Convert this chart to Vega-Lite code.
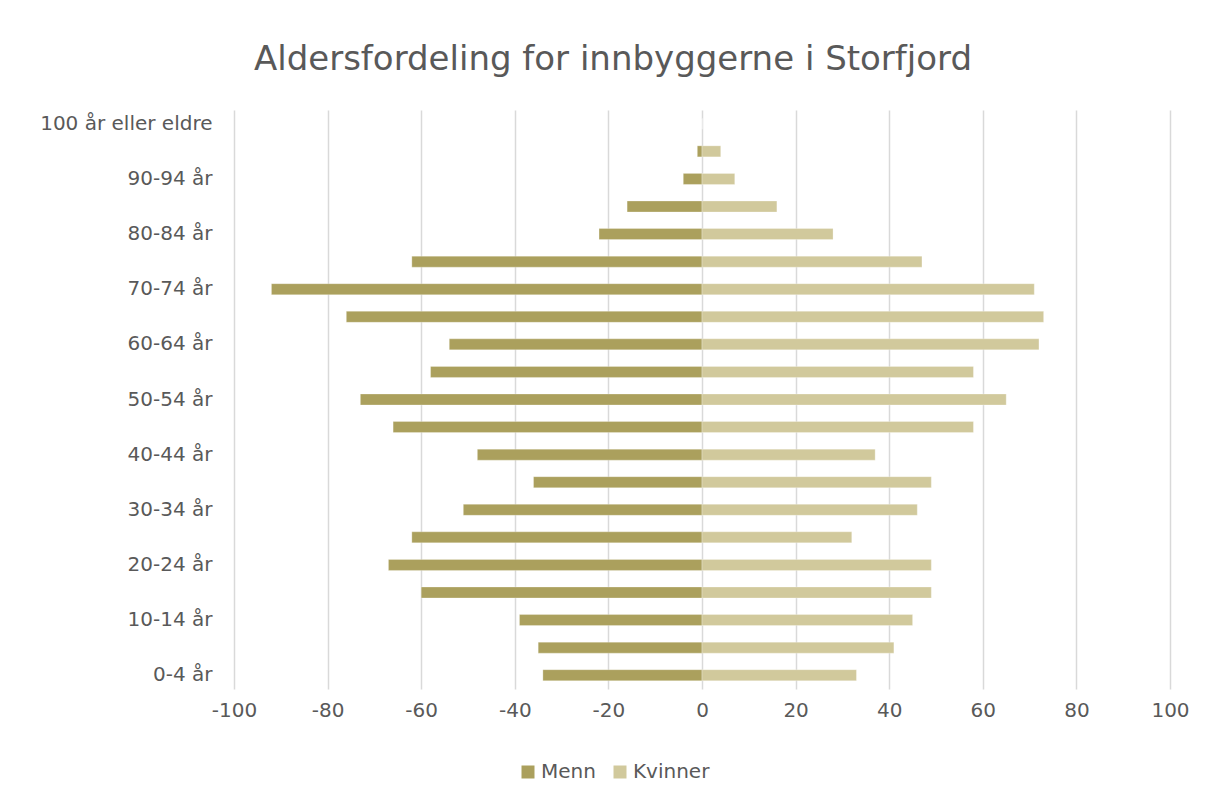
{
  "$schema": "https://vega.github.io/schema/vega-lite/v6.json",
  "width": 936,
  "height": 579,
  "autosize": {"type": "none"},
  "padding": {"left": 234, "top": 110, "right": 38, "bottom": 114},
  "background": "white",
  "title": {
    "text": "Aldersfordeling for innbyggerne i Storfjord",
    "font": "DejaVu Sans",
    "fontSize": 34,
    "fontWeight": "normal",
    "color": "#595959",
    "anchor": "middle",
    "frame": "group",
    "dx": -89,
    "offset": 33
  },
  "data": {
    "values": [
      {"alder": "0-4 år", "kjonn": "Menn", "antall": -34},
      {"alder": "0-4 år", "kjonn": "Kvinner", "antall": 33},
      {"alder": "5-9 år", "kjonn": "Menn", "antall": -35},
      {"alder": "5-9 år", "kjonn": "Kvinner", "antall": 41},
      {"alder": "10-14 år", "kjonn": "Menn", "antall": -39},
      {"alder": "10-14 år", "kjonn": "Kvinner", "antall": 45},
      {"alder": "15-19 år", "kjonn": "Menn", "antall": -60},
      {"alder": "15-19 år", "kjonn": "Kvinner", "antall": 49},
      {"alder": "20-24 år", "kjonn": "Menn", "antall": -67},
      {"alder": "20-24 år", "kjonn": "Kvinner", "antall": 49},
      {"alder": "25-29 år", "kjonn": "Menn", "antall": -62},
      {"alder": "25-29 år", "kjonn": "Kvinner", "antall": 32},
      {"alder": "30-34 år", "kjonn": "Menn", "antall": -51},
      {"alder": "30-34 år", "kjonn": "Kvinner", "antall": 46},
      {"alder": "35-39 år", "kjonn": "Menn", "antall": -36},
      {"alder": "35-39 år", "kjonn": "Kvinner", "antall": 49},
      {"alder": "40-44 år", "kjonn": "Menn", "antall": -48},
      {"alder": "40-44 år", "kjonn": "Kvinner", "antall": 37},
      {"alder": "45-49 år", "kjonn": "Menn", "antall": -66},
      {"alder": "45-49 år", "kjonn": "Kvinner", "antall": 58},
      {"alder": "50-54 år", "kjonn": "Menn", "antall": -73},
      {"alder": "50-54 år", "kjonn": "Kvinner", "antall": 65},
      {"alder": "55-59 år", "kjonn": "Menn", "antall": -58},
      {"alder": "55-59 år", "kjonn": "Kvinner", "antall": 58},
      {"alder": "60-64 år", "kjonn": "Menn", "antall": -54},
      {"alder": "60-64 år", "kjonn": "Kvinner", "antall": 72},
      {"alder": "65-69 år", "kjonn": "Menn", "antall": -76},
      {"alder": "65-69 år", "kjonn": "Kvinner", "antall": 73},
      {"alder": "70-74 år", "kjonn": "Menn", "antall": -92},
      {"alder": "70-74 år", "kjonn": "Kvinner", "antall": 71},
      {"alder": "75-79 år", "kjonn": "Menn", "antall": -62},
      {"alder": "75-79 år", "kjonn": "Kvinner", "antall": 47},
      {"alder": "80-84 år", "kjonn": "Menn", "antall": -22},
      {"alder": "80-84 år", "kjonn": "Kvinner", "antall": 28},
      {"alder": "85-89 år", "kjonn": "Menn", "antall": -16},
      {"alder": "85-89 år", "kjonn": "Kvinner", "antall": 16},
      {"alder": "90-94 år", "kjonn": "Menn", "antall": -4},
      {"alder": "90-94 år", "kjonn": "Kvinner", "antall": 7},
      {"alder": "95-99 år", "kjonn": "Menn", "antall": -1},
      {"alder": "95-99 år", "kjonn": "Kvinner", "antall": 4},
      {"alder": "100 år eller eldre", "kjonn": "Menn", "antall": 0},
      {"alder": "100 år eller eldre", "kjonn": "Kvinner", "antall": 0}
    ]
  },
  "mark": {"type": "bar", "stroke": "#ffffff", "strokeOpacity": 0.35, "strokeWidth": 0.8},
  "encoding": {
    "y": {
      "field": "alder",
      "type": "nominal",
      "sort": ["100 år eller eldre", "95-99 år", "90-94 år", "85-89 år", "80-84 år", "75-79 år", "70-74 år", "65-69 år", "60-64 år", "55-59 år", "50-54 år", "45-49 år", "40-44 år", "35-39 år", "30-34 år", "25-29 år", "20-24 år", "15-19 år", "10-14 år", "5-9 år", "0-4 år"],
      "scale": {"paddingInner": 0.6, "paddingOuter": 0.3},
      "axis": {
        "title": null,
        "values": ["100 år eller eldre", "90-94 år", "80-84 år", "70-74 år", "60-64 år", "50-54 år", "40-44 år", "30-34 år", "20-24 år", "10-14 år", "0-4 år"],
        "domain": false,
        "ticks": false,
        "grid": false,
        "labelFont": "DejaVu Sans",
        "labelFontSize": 20,
        "labelColor": "#595959",
        "labelPadding": 22
      }
    },
    "x": {
      "field": "antall",
      "type": "quantitative",
      "stack": null,
      "scale": {"domain": [-100, 100], "nice": false},
      "axis": {
        "title": null,
        "values": [-100, -80, -60, -40, -20, 0, 20, 40, 60, 80, 100],
        "labelExpr": "toString(datum.value)",
        "labelFlush": false,
        "labelOverlap": false,
        "domain": false,
        "ticks": false,
        "grid": true,
        "gridColor": "#d9d9d9",
        "gridWidth": 1.5,
        "labelFont": "DejaVu Sans",
        "labelFontSize": 20,
        "labelColor": "#595959",
        "labelPadding": 11
      }
    },
    "color": {
      "field": "kjonn",
      "type": "nominal",
      "scale": {"domain": ["Menn", "Kvinner"], "range": ["#aba05d", "#d1c99c"]},
      "legend": {
        "title": null,
        "orient": "none",
        "direction": "horizontal",
        "legendX": 284,
        "legendY": 652,
        "symbolType": "square",
        "symbolSize": 169,
        "symbolStrokeWidth": 0,
        "labelFont": "DejaVu Sans",
        "labelFontSize": 20,
        "labelColor": "#595959",
        "labelOffset": 3,
        "columnPadding": 14
      }
    }
  },
  "config": {"view": {"stroke": null}}
}
